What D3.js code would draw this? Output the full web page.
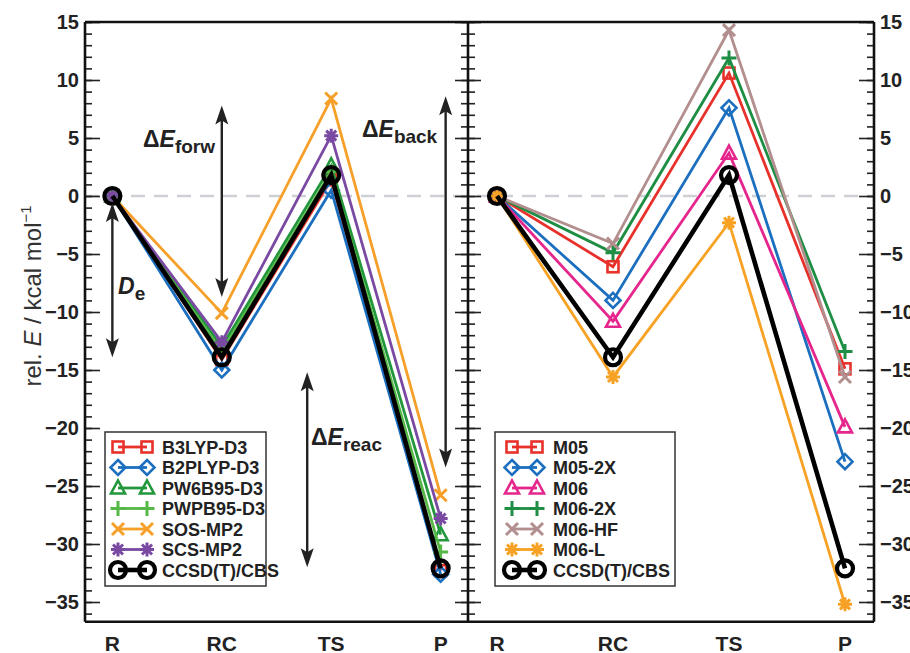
<!DOCTYPE html>
<html>
<head>
<meta charset="utf-8">
<script src="https://cdn.jsdelivr.net/npm/d3@7/dist/d3.min.js"></script>
<style>
  html, body { margin: 0; padding: 0; background: #fff; }
  svg { display: block; }
  text { font-family: "Liberation Sans", Arial, sans-serif; }
</style>
</head>
<body>
<svg id="chart" width="910" height="653"></svg>
<script>
// Stationary points along the reaction path
const categories = ["R", "RC", "TS", "P"];

// Left panel: relative energies (kcal/mol)
const b3lypD3   = [0, -14.1,  1.4, -32.3];
const b2plypD3  = [0, -15.0,  0.5, -32.6];
const pw6b95D3  = [0, -13.0,  2.6, -29.2];
const pwpb95D3  = [0, -13.4,  2.1, -30.7];
const sosMp2    = [0, -10.1,  8.4, -25.8];
const scsMp2    = [0, -12.6,  5.2, -27.8];
const ccsdtCbs  = [0, -13.9,  1.8, -32.1];

// Right panel: Minnesota functionals
const m05   = [0,  -6.1, 10.6, -14.9];
const m052x = [0,  -9.0,  7.6, -22.9];
const m06   = [0, -10.8,  3.7, -19.9];
const m062x = [0,  -4.9, 11.9, -13.4];
const m06hf = [0,  -4.1, 14.3, -15.6];
const m06l  = [0, -15.6, -2.3, -35.2];

// Axis ticks
const majorTicks = [15, 10, 5, 0, -5, -10, -15, -20, -25, -30, -35];
const minorTicks = d3.range(-36, 16);
const yTop = 15, yBottom = -36.7;

const leftSeries = [
  { name: "B3LYP-D3",   values: b3lypD3,  color: "#e8312b", shape: "square" },
  { name: "B2PLYP-D3",  values: b2plypD3, color: "#1c6fbf", shape: "diamond" },
  { name: "PW6B95-D3",  values: pw6b95D3, color: "#22973c", shape: "triangle" },
  { name: "PWPB95-D3",  values: pwpb95D3, color: "#56b846", shape: "plus" },
  { name: "SOS-MP2",    values: sosMp2,   color: "#f6a02a", shape: "x" },
  { name: "SCS-MP2",    values: scsMp2,   color: "#7a4aa3", shape: "asterisk" },
  { name: "CCSD(T)/CBS",values: ccsdtCbs, color: "#000000", shape: "circle", ref: true }
];
const rightSeries = [
  { name: "M05",        values: m05,      color: "#e8312b", shape: "square" },
  { name: "M05-2X",     values: m052x,    color: "#1c6fbf", shape: "diamond" },
  { name: "M06",        values: m06,      color: "#e5268c", shape: "triangle" },
  { name: "M06-2X",     values: m062x,    color: "#1d8e43", shape: "plus" },
  { name: "M06-HF",     values: m06hf,    color: "#b38e8e", shape: "x" },
  { name: "M06-L",      values: m06l,     color: "#f7a224", shape: "asterisk" },
  { name: "CCSD(T)/CBS",values: ccsdtCbs, color: "#000000", shape: "circle", ref: true }
];

const svg = d3.select("#chart");
const X0 = 85, XM = 468, X1 = 874;

const y = d3.scaleLinear().domain([-35, 15]).range([602, 22]);
const xL = d3.scalePoint().domain(categories).range([X0, XM]).padding(0.25);
const xR = d3.scalePoint().domain(categories).range([XM, X1]).padding(0.25);

// Zero reference line
svg.append("line")
  .attr("x1", X0).attr("x2", X1).attr("y1", y(0)).attr("y2", y(0))
  .attr("stroke", "#cdd0d4").attr("stroke-width", 2.6).attr("stroke-dasharray", "14,9");

// Marker shapes
function marker(g, shape, cx, cy, color) {
  const s = g.append("g").attr("transform", `translate(${cx},${cy})`)
    .attr("fill", "none").attr("stroke", color).attr("stroke-width", 2.6);
  if (shape === "square") {
    s.append("rect").attr("x", -5.5).attr("y", -5.5).attr("width", 11).attr("height", 11);
  } else if (shape === "diamond") {
    s.append("path").attr("d", "M0,-7.5L7.5,0L0,7.5L-7.5,0Z");
  } else if (shape === "triangle") {
    s.append("path").attr("d", "M0,-7.5L7,5.5L-7,5.5Z");
  } else if (shape === "plus") {
    s.append("path").attr("d", "M-7.5,0H7.5M0,-7.5V7.5").attr("stroke-width", 3);
  } else if (shape === "x") {
    s.append("path").attr("d", "M-6,-6L6,6M-6,6L6,-6").attr("stroke-width", 3);
  } else if (shape === "asterisk") {
    s.append("path").attr("d", "M-7,0H7M0,-7V7M-5,-5L5,5M-5,5L5,-5").attr("stroke-width", 3);
  } else if (shape === "circle") {
    s.append("circle").attr("r", 8).attr("stroke-width", 4.2);
  }
}

function drawPanel(series, x) {
  const g = svg.append("g");
  const line = d3.line().x((d, i) => x(categories[i])).y(d => y(d));
  series.forEach(s => {
    g.append("path").datum(s.values).attr("d", line)
      .attr("fill", "none").attr("stroke", s.color)
      .attr("stroke-width", s.ref ? 4.6 : 2.8).attr("stroke-linejoin", "miter");
    s.values.forEach((v, i) => marker(g, s.shape, x(categories[i]), y(v), s.color));
  });
}
drawPanel(leftSeries, xL);
drawPanel(rightSeries, xR);

// Axes
function styleAxis(g) {
  g.select(".domain").remove();
  g.selectAll("line").attr("stroke", "#222").attr("stroke-width", 1.6);
  g.selectAll("text").attr("font-family", "Liberation Sans, Arial, sans-serif")
    .attr("font-weight", "bold").attr("font-size", 20).attr("fill", "#222");
}
const fmt = d3.format("d");
svg.append("g").attr("transform", `translate(${X0},0)`)
  .call(d3.axisLeft(y).tickValues(majorTicks).tickFormat(fmt).tickSizeInner(-15).tickSizeOuter(0).tickPadding(6))
  .call(styleAxis);
svg.append("g").attr("transform", `translate(${X0},0)`)
  .call(d3.axisLeft(y).tickValues(minorTicks).tickFormat("").tickSizeInner(-7).tickSizeOuter(0))
  .call(styleAxis);
svg.append("g").attr("transform", `translate(${X1},0)`)
  .call(d3.axisRight(y).tickValues(majorTicks).tickFormat(fmt).tickSizeInner(-15).tickSizeOuter(0).tickPadding(6))
  .call(styleAxis);
svg.append("g").attr("transform", `translate(${X1},0)`)
  .call(d3.axisRight(y).tickValues(minorTicks).tickFormat("").tickSizeInner(-7).tickSizeOuter(0))
  .call(styleAxis);
[[d3.axisLeft, 13], [d3.axisRight, 13], [d3.axisLeft, 7, true], [d3.axisRight, 7, true]].forEach(([ax, len, minor]) => {
  svg.append("g").attr("transform", `translate(${XM},0)`)
    .call(ax(y).tickValues(minor ? minorTicks : majorTicks).tickFormat("").tickSizeInner(len).tickSizeOuter(0))
    .call(styleAxis);
});

// Frame
const frame = svg.append("g").attr("stroke", "#111").attr("stroke-width", 2.6);
frame.append("line").attr("x1", X0).attr("x2", X1).attr("y1", y(yTop)).attr("y2", y(yTop));
frame.append("line").attr("x1", X0).attr("x2", X1).attr("y1", y(yBottom)).attr("y2", y(yBottom));
[X0, XM, X1].forEach(xx => frame.append("line").attr("x1", xx).attr("x2", xx).attr("y1", y(yTop)).attr("y2", y(yBottom)));

// Category labels
[xL, xR].forEach(x => {
  svg.append("g").selectAll("text").data(categories).join("text")
    .attr("x", d => x(d)).attr("y", 651).attr("text-anchor", "middle")
    .attr("font-weight", "bold").attr("font-size", 21).attr("fill", "#222").text(d => d);
});

// Y axis title
const yt = svg.append("text").attr("transform", "translate(41,296) rotate(-90)")
  .attr("text-anchor", "middle").attr("font-size", 24).attr("fill", "#333");
yt.append("tspan").text("rel. ");
yt.append("tspan").attr("font-style", "italic").text("E");
yt.append("tspan").text(" / kcal mol");
yt.append("tspan").attr("font-size", 15).attr("dy", -10).text("−1");

// Double-headed arrows with labels
function dblArrow(x, v1, v2) {
  const ya = y(v1), yb = y(v2);
  const g = svg.append("g").attr("stroke", "#222").attr("fill", "#222");
  g.append("line").attr("x1", x).attr("x2", x).attr("y1", ya + 10).attr("y2", yb - 10).attr("stroke-width", 2.4);
  g.append("path").attr("stroke", "none")
    .attr("d", `M${x},${ya}L${x + 6.5},${ya + 19}L${x},${ya + 15}L${x - 6.5},${ya + 19}Z`);
  g.append("path").attr("stroke", "none")
    .attr("d", `M${x},${yb}L${x + 6.5},${yb - 19}L${x},${yb - 15}L${x - 6.5},${yb - 19}Z`);
}
function label(xp, yp, sym, sub, withDelta) {
  const t = svg.append("text").attr("x", xp).attr("y", yp)
    .attr("font-family", "DejaVu Sans, sans-serif").attr("font-weight", "bold")
    .attr("font-size", 23).attr("fill", "#222");
  if (withDelta) t.append("tspan").text("Δ");
  t.append("tspan").attr("font-style", "italic").text(sym);
  t.append("tspan").attr("font-size", 19).attr("dy", 6).text(sub);
}
const RCx = xL("RC"), Rx = xL("R"), TSx = xL("TS"), Px = xL("P");
dblArrow(RCx, 7.8, -8.7);
label(143, 147, "E", "forw", true);
dblArrow(Rx, -0.6, -13.9);
label(118, 294, "D", "e", false);
dblArrow(Px + 5, 8.6, -23.4);
label(362, 137, "E", "back", true);
dblArrow(TSx - 24, -15.2, -32.0);
label(311, 445, "E", "reac", true);

// Legends
function legend(series, bx, by, bw, bh, m1, m2, tx) {
  const g = svg.append("g");
  g.append("rect").attr("x", bx).attr("y", by).attr("width", bw).attr("height", bh)
    .attr("fill", "#fff").attr("stroke", "#333").attr("stroke-width", 1.5);
  series.forEach((s, i) => {
    const yy = by + 15 + i * 20.5;
    g.append("line").attr("x1", m1).attr("x2", m2).attr("y1", yy).attr("y2", yy)
      .attr("stroke", s.color).attr("stroke-width", s.ref ? 4.6 : 2.8);
    marker(g, s.shape, m1, yy, s.color);
    marker(g, s.shape, m2, yy, s.color);
    g.append("text").attr("x", tx).attr("y", yy + 6.5).attr("font-weight", "bold")
      .attr("font-size", 18).attr("fill", "#222").text(s.name);
  });
}
legend(leftSeries, 105, 432, 161, 154, 118, 147, 162);
legend(rightSeries, 495, 432, 180, 154, 512, 537, 553);
</script>
</body>
</html>
